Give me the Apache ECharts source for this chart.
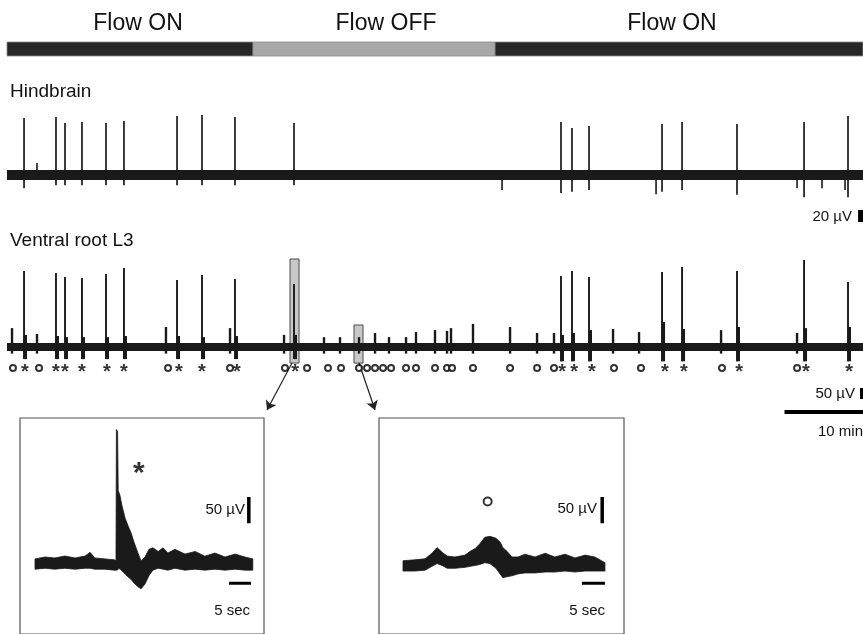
<!DOCTYPE html>
<html>
<head>
<meta charset="utf-8">
<title>Flow ON / OFF recording</title>
<script src="https://cdn.jsdelivr.net/npm/echarts@6/dist/echarts.min.js"></script>
<style>
  html, body { margin: 0; padding: 0; background: #fff; }
  #chart { width: 863px; height: 634px; }
</style>
</head>
<body>
<div id="chart"></div>
<script>
// long traces: time in minutes, amplitude in µV; insets: time in seconds
var flowStart = [0, 31.34, 62.17];
var flowEnd = [31.34, 62.17, 109.04];
var flowState = ['ON', 'OFF', 'ON'];
var flowLabelAt = [16.69, 48.28, 84.71];

var spikeTimes = [2.17, 6.24, 7.39, 9.55, 12.61, 14.90, 21.66, 24.84, 29.04, 36.56,
  70.57, 71.97, 74.14, 83.44, 85.99, 92.99, 101.53, 107.13];
var hbPeak = [95, 96.7, 86.7, 88.3, 86.7, 90, 98.3, 100, 96.7, 86.7,
  88.3, 78.3, 81.7, 85, 88.3, 85, 88.3, 98.3];
var hbTrough = [-22, -17, -17, -17, -17, -17, -17, -17, -17, -17,
  -30, -28, -25, -28, -25, -33, -37, -37];
var hbBlipTimes = [3.82, 63.06, 82.68, 100.64, 103.82, 106.75];
var hbBlipValue = [20, -25, -32, -22, -22, -25];

var vrPeak = [345, 336, 318, 314, 332, 359, 305, 327, 309, 286,
  323, 345, 318, 341, 364, 345, 395, 295];
var vrTrough = [-55, -55, -55, -55, -55, -55, -55, -55, -55, -55,
  -65, -65, -65, -65, -65, -65, -65, -65];
var vrShoulder = [55, 50, 45, 45, 45, 50, 50, 45, 50, 55,
  55, 64, 77, 114, 82, 91, 86, 91];
var vrBumpTimes = [0.64, 3.82, 20.25, 28.41, 35.29, 40.38, 42.42, 44.84, 46.88, 48.66,
  50.83, 52.10, 54.52, 56.05, 56.56, 59.36, 64.08, 67.52, 69.68, 77.20, 80.51, 90.96, 100.64];
var vrBumpPeak = [86, 59, 91, 86, 55, 45, 45, 45, 64, 45,
  45, 68, 77, 73, 86, 105, 91, 64, 64, 82, 68, 77, 64];

var circleTimes = [0.76, 4.08, 20.51, 28.41, 35.41, 38.22, 40.89, 42.55, 44.84, 45.86,
  46.88, 47.90, 48.92, 50.83, 52.10, 54.52, 56.05, 56.69, 59.36, 64.08,
  67.52, 69.68, 77.32, 80.76, 91.08, 100.64];
var starTimes = [2.29, 6.24, 7.39, 9.55, 12.74, 14.90, 21.91, 24.84, 29.30, 36.69,
  70.70, 72.23, 74.52, 83.82, 86.24, 93.25, 101.78, 107.26];

// zoomed windows (minutes, µV)
var boxStart = [36.05, 44.20];
var boxEnd = [37.20, 45.35];
var boxTop = [400, 100];
var boxBottom = [-73, -73];

// inset 1: an event with a spike (*)
var in1T = [0, 2.3, 4.5, 6.8, 9.1, 11.4, 12.5, 13.6, 15.9, 18.0,
  18.41, 18.5, 18.77, 18.91, 19.3, 19.8, 20.5, 21.1, 21.8, 22.5,
  23.4, 24.1, 25.0, 25.9, 26.8, 28.0, 29.1, 30.2, 31.8, 34.1,
  36.4, 38.6, 40.9, 43.2, 45.5, 47.7, 49.5];
var in1Hi = [8.9, 12.5, 10.7, 14.3, 10.7, 14.3, 21.4, 10.7, 8.9, 7.1,
  5.4, 255, 251, 139, 130, 109, 86, 73, 59, 41,
  20, 5, 12.5, 27, 30, 23, 30, 20, 27, 18,
  23, 14, 20, 12.5, 18, 12.5, 8.9];
var in1Lo = [-10.7, -8.9, -10.7, -8.9, -10.7, -8.9, -8.9, -10.7, -10.7, -12.5,
  -12.5, -12.5, -12, -10, -10, -14, -20, -25, -30, -37,
  -44, -48, -39, -23, -12.5, -8.9, -10.7, -12.5, -8.9, -12.5,
  -10.7, -12.5, -10.7, -12.5, -10.7, -12.5, -12.5];

// inset 2: an event without spike (o)
var in2T = [0, 2.6, 4.8, 6.3, 7.4, 8.5, 9.6, 11.3, 13.5, 14.6,
  15.7, 16.7, 17.8, 18.9, 20.2, 21.1, 21.7, 22.6, 23.7, 25.0,
  26.5, 28.7, 30.9, 33.0, 35.2, 37.4, 39.6, 41.7, 43.9];
var in2Hi = [12.5, 14.3, 16.1, 26.8, 37.5, 28.6, 21.4, 19.6, 23.2, 30.4,
  35.7, 44.6, 57.1, 58.9, 55.4, 48.2, 37.5, 30.4, 19.6, 19.6,
  25.0, 19.6, 26.8, 19.6, 25.0, 17.9, 23.2, 19.6, 8.9];
var in2Lo = [-7.1, -7.1, -5.4, 1.8, 7.1, 3.6, -1.8, -1.8, 0, 1.8,
  3.6, 5.4, 8.9, 7.1, -1.8, -12.5, -19.6, -17.9, -16.1, -12.5,
  -10.7, -10.7, -8.9, -8.9, -7.1, -8.9, -7.1, -7.1, -7.1];

var FONT = '"Liberation Sans", Arial, sans-serif';
var INK = '#1a1a1a';

function zip() {
  var cols = Array.prototype.slice.call(arguments);
  return cols[0].map(function (v, i) {
    return cols.map(function (c) { return c[i]; });
  });
}

function flowItem(params, api) {
  var state = flowState[params.dataIndex];
  var p0 = api.coord([api.value(0), 1]);
  var p1 = api.coord([api.value(1), 0]);
  var lab = api.coord([api.value(2), 1]);
  return {
    type: 'group',
    children: [
      { type: 'rect', shape: { x: p0[0], y: p0[1], width: p1[0] - p0[0], height: p1[1] - p0[1] },
        style: { fill: state === 'ON' ? '#262626' : '#a8a8a8', stroke: '#8c8c8c', lineWidth: 0.8 } },
      { type: 'text', x: lab[0], y: p0[1] - 18,
        style: { text: 'Flow ' + state, fontSize: 23, fontFamily: FONT, fill: '#111',
          align: 'center', verticalAlign: 'middle' } }
    ]
  };
}

function vLine(width) {
  return function (params, api) {
    var a = api.coord([api.value(0), api.value(1)]);
    var b = api.coord([api.value(0), api.value(2)]);
    return { type: 'line', shape: { x1: a[0], y1: a[1], x2: b[0], y2: b[1] },
      style: { stroke: INK, lineWidth: width } };
  };
}

function vrSpikeItem(params, api) {
  var t = api.value(0);
  var top = api.coord([t, api.value(1)]);
  var bot = api.coord([t, api.value(2)]);
  var sh = api.coord([t, api.value(3)]);
  return {
    type: 'group',
    children: [
      { type: 'rect', shape: { x: top[0] - 0.5, y: sh[1], width: 3.5, height: bot[1] - sh[1] },
        style: { fill: INK } },
      { type: 'line', shape: { x1: top[0], y1: bot[1], x2: top[0], y2: top[1] },
        style: { stroke: INK, lineWidth: 1.9 } }
    ]
  };
}

function boxItem(params, api) {
  var a = api.coord([api.value(0), api.value(2)]);
  var b = api.coord([api.value(1), api.value(3)]);
  return { type: 'rect', shape: { x: a[0], y: a[1], width: b[0] - a[0], height: b[1] - a[1] },
    style: { fill: '#c8c8c8', stroke: '#4a4a4a', lineWidth: 1 } };
}

// one polygon: upper envelope forward, lower envelope back
function bandItem(params, api) {
  if (params.dataIndexInside !== 0) return;
  var n = params.dataInsideLength;
  var upper = [], lower = [];
  for (var i = 0; i < n; i++) {
    upper.push(api.coord([api.value(0, i), api.value(2, i)]));
    lower.unshift(api.coord([api.value(0, i), api.value(1, i)]));
  }
  return { type: 'polygon', shape: { points: upper.concat(lower) },
    style: { fill: INK, stroke: INK, lineWidth: 0.8 } };
}

function bar(xi, yi, coords, width) {
  return {
    type: 'line', xAxisIndex: xi, yAxisIndex: yi, data: coords, symbol: 'none',
    lineStyle: { color: '#000', width: width, cap: 'butt' }, clip: false, z: 5, silent: true
  };
}

function text(x, y, s, align, size) {
  return { type: 'text', x: x, y: y,
    style: { text: s, fontSize: size, fontFamily: FONT, fill: '#111', align: align, verticalAlign: 'middle' } };
}

var chart = echarts.init(document.getElementById('chart'), null, { renderer: 'canvas' });

var hideAxis = { show: false };
var option = {
  animation: false,
  backgroundColor: '#fff',
  grid: [
    { left: 7, top: 42, width: 856, height: 14 },
    { left: 7, top: 105, width: 856, height: 125 },
    { left: 7, top: 248, width: 856, height: 172 },
    { left: 20, top: 418, width: 244, height: 230, show: true, borderColor: '#555', borderWidth: 1.2, backgroundColor: 'transparent' },
    { left: 379, top: 418, width: 245, height: 230, show: true, borderColor: '#555', borderWidth: 1.2, backgroundColor: 'transparent' }
  ],
  xAxis: [
    Object.assign({ type: 'value', gridIndex: 0, min: 0, max: 109.04 }, hideAxis),
    Object.assign({ type: 'value', gridIndex: 1, min: 0, max: 109.04 }, hideAxis),
    Object.assign({ type: 'value', gridIndex: 2, min: 0, max: 109.04 }, hideAxis),
    Object.assign({ type: 'value', gridIndex: 3, min: -3.41, max: 52.05 }, hideAxis),
    Object.assign({ type: 'value', gridIndex: 4, min: -5.217, max: 48.04 }, hideAxis)
  ],
  yAxis: [
    Object.assign({ type: 'value', gridIndex: 0, min: 0, max: 1 }, hideAxis),
    Object.assign({ type: 'value', gridIndex: 1, min: -91.67, max: 116.67 }, hideAxis),
    Object.assign({ type: 'value', gridIndex: 2, min: -331.8, max: 450 }, hideAxis),
    Object.assign({ type: 'value', gridIndex: 3, min: -133.93, max: 276.79 }, hideAxis),
    Object.assign({ type: 'value', gridIndex: 4, min: -126.79, max: 283.93 }, hideAxis)
  ],
  graphic: [
    text(10, 92, 'Hindbrain', 'left', 19),
    text(10, 241, 'Ventral root L3', 'left', 19),
    text(852, 217, '20 µV', 'right', 15),
    text(855, 394, '50 µV', 'right', 15),
    text(818, 432, '10 min', 'left', 15),
    text(245, 510, '50 µV', 'right', 15),
    text(250, 611, '5 sec', 'right', 15),
    text(597, 509, '50 µV', 'right', 15),
    text(605, 611, '5 sec', 'right', 15)
  ],
  series: [
    // flow condition bar
    { type: 'custom', xAxisIndex: 0, yAxisIndex: 0, renderItem: flowItem,
      data: zip(flowStart, flowEnd, flowLabelAt), encode: { x: 0, y: 0 }, silent: true },

    // hindbrain trace
    { type: 'line', xAxisIndex: 1, yAxisIndex: 1, symbol: 'none', silent: true, z: 2,
      data: [[flowStart[0], 0], [flowEnd[2], 0]], lineStyle: { color: INK, width: 10, cap: 'butt' } },
    { type: 'custom', xAxisIndex: 1, yAxisIndex: 1, renderItem: vLine(1.7), z: 3, silent: true,
      data: zip(spikeTimes, hbPeak, hbTrough), encode: { x: 0, y: 1 } },
    { type: 'custom', xAxisIndex: 1, yAxisIndex: 1, renderItem: vLine(1.6), z: 3, silent: true,
      data: zip(hbBlipTimes, hbBlipValue, hbBlipValue.map(function () { return 0; })), encode: { x: 0, y: 1 } },
    bar(1, 1, [[108.73, -58.3], [108.73, -78.3]], 5),

    // ventral root trace
    { type: 'custom', xAxisIndex: 2, yAxisIndex: 2, renderItem: boxItem, z: 1, silent: true,
      data: zip(boxStart, boxEnd, boxTop, boxBottom), encode: { x: 0, y: 2 } },
    { type: 'line', xAxisIndex: 2, yAxisIndex: 2, symbol: 'none', silent: true, z: 2,
      data: [[flowStart[0], 0], [flowEnd[2], 0]], lineStyle: { color: INK, width: 8, cap: 'butt' } },
    { type: 'custom', xAxisIndex: 2, yAxisIndex: 2, renderItem: vLine(2.4), z: 3, silent: true,
      data: zip(vrBumpTimes, vrBumpPeak, vrBumpPeak.map(function () { return -30; })), encode: { x: 0, y: 1 } },
    { type: 'custom', xAxisIndex: 2, yAxisIndex: 2, renderItem: vrSpikeItem, z: 4, silent: true,
      data: zip(spikeTimes, vrPeak, vrTrough, vrShoulder), encode: { x: 0, y: 1 } },
    { type: 'scatter', xAxisIndex: 2, yAxisIndex: 2, symbol: 'emptyCircle', symbolSize: 6, z: 5, silent: true,
      itemStyle: { color: '#000', borderWidth: 1.7 },
      data: circleTimes.map(function (t) { return [t, -95]; }) },
    { type: 'scatter', xAxisIndex: 2, yAxisIndex: 2, symbolSize: 1, z: 5, silent: true,
      itemStyle: { color: 'transparent' },
      label: { show: true, position: 'inside', formatter: '*', fontSize: 20, fontWeight: 'bold',
        fontFamily: FONT, color: '#000', offset: [0, 5] },
      data: starTimes.map(function (t) { return [t, -95]; }) },
    { type: 'lines', coordinateSystem: 'cartesian2d', xAxisIndex: 2, yAxisIndex: 2, z: 5, silent: true,
      symbol: ['none', 'arrow'], symbolSize: 9,
      lineStyle: { color: '#222', width: 1.2, opacity: 1 },
      data: [
        { coords: [[36.31, -72.7], [33.12, -286.4]] },
        { coords: [[44.84, -72.7], [46.88, -286.4]] }
      ] },
    bar(2, 2, [[108.85, -186.4], [108.85, -236.4]], 3),
    bar(2, 2, [[99.04, -295.5], [109.04, -295.5]], 4),

    // inset 1
    { type: 'custom', xAxisIndex: 3, yAxisIndex: 3, renderItem: bandItem, silent: true,
      data: zip(in1T, in1Lo, in1Hi), encode: { x: 0, y: [1, 2] } },
    { type: 'scatter', xAxisIndex: 3, yAxisIndex: 3, symbolSize: 1, silent: true,
      itemStyle: { color: 'transparent' },
      label: { show: true, position: 'inside', formatter: '*', fontSize: 30, fontWeight: 'bold',
        fontFamily: FONT, color: '#000', offset: [0, 7] },
      data: [[23.6, 184]] },
    bar(3, 3, [[48.6, 126.8], [48.6, 76.8]], 3.5),
    bar(3, 3, [[44.1, -37.5], [49.1, -37.5]], 3),

    // inset 2
    { type: 'custom', xAxisIndex: 4, yAxisIndex: 4, renderItem: bandItem, silent: true,
      data: zip(in2T, in2Lo, in2Hi), encode: { x: 0, y: [1, 2] } },
    { type: 'scatter', xAxisIndex: 4, yAxisIndex: 4, symbol: 'emptyCircle', symbolSize: 8, silent: true,
      itemStyle: { color: '#000', borderWidth: 2 },
      data: [[18.4, 125]] },
    bar(4, 4, [[43.3, 133.9], [43.3, 83.9]], 3.5),
    bar(4, 4, [[38.9, -30.4], [43.9, -30.4]], 3)
  ]
};

chart.setOption(option);
</script>
</body>
</html>
